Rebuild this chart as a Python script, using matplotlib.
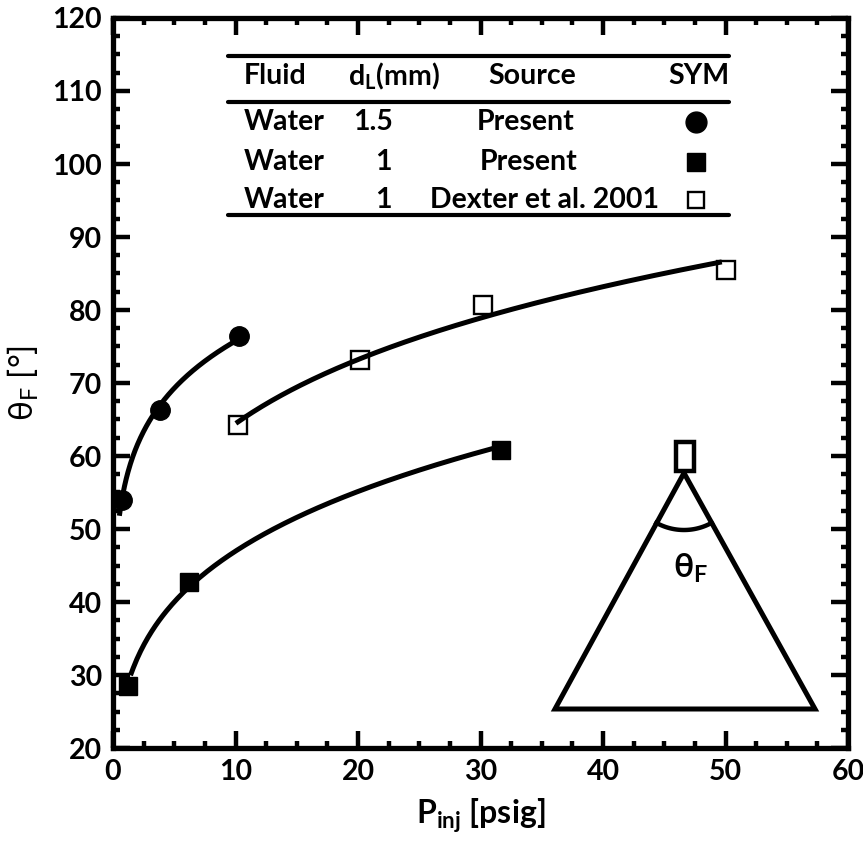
import matplotlib
matplotlib.use("Agg")
import matplotlib.pyplot as plt
import numpy as np
from matplotlib.ticker import MultipleLocator

plt.rcParams['font.family'] = ['Lato', 'DejaVu Sans']
plt.rcParams['mathtext.fontset'] = 'custom'
plt.rcParams['mathtext.rm'] = 'Lato'
plt.rcParams['mathtext.bf'] = 'Lato:bold'
plt.rcParams['mathtext.default'] = 'regular'

# data
p_circ = [0.7, 3.85, 10.25]          # dL 1.5 mm, present
th_circ = [54.0, 66.3, 76.5]
p_fsq = [1.2, 6.2, 31.7]             # dL 1 mm, present
th_fsq = [28.5, 42.8, 60.8]
p_osq = [10.2, 20.2, 30.2, 50.0]     # Dexter et al. 2001
th_osq = [64.3, 73.2, 80.7, 85.5]

tbl_fluid = ["Water", "Water", "Water"]
tbl_dl = ["1.5", "1", "1"]
tbl_src = ["Present", "Present", "Dexter et al. 2001"]


def power_fit(x, y, x0, x1):
    b, a = np.polyfit(np.log(x), np.log(y), 1)
    xx = np.linspace(x0, x1, 200)
    return xx, np.exp(a) * xx ** b


fig = plt.figure(figsize=(8.63, 8.46), dpi=100)
ax = fig.add_axes([113/863, 1-748/846, 735/863, 730/846])

lw = 3.6
xx, yy = power_fit(p_circ, th_circ, 0.55, 10.2)
ax.plot(xx, yy, color='black', lw=lw, zorder=2)
xx, yy = power_fit(p_fsq, th_fsq, 1.5, 31.5)
ax.plot(xx, yy, color='black', lw=lw, zorder=2)
xx, yy = power_fit(p_osq, th_osq, 10.2, 49.5)
ax.plot(xx, yy, color='black', lw=lw, zorder=2)

ax.plot(p_circ, th_circ, 'o', color='black', ms=14, zorder=3, clip_on=False)
ax.plot(p_fsq, th_fsq, 's', color='black', ms=13, zorder=3, clip_on=False)
ax.plot(p_osq, th_osq, 's', mfc='none', mec='black', mew=1.7, ms=12.5, zorder=1)

ax.set_xlim(0, 60)
ax.set_ylim(20, 120)
ax.xaxis.set_major_locator(MultipleLocator(10))
ax.xaxis.set_minor_locator(MultipleLocator(2.5))
ax.yaxis.set_major_locator(MultipleLocator(10))
ax.yaxis.set_minor_locator(MultipleLocator(2.5))
ax.tick_params(which='both', direction='in', top=True, right=True, width=3.2)
ax.tick_params(which='major', length=12, labelsize=20.5, pad=8)
ax.tick_params(which='minor', length=5)
for lab in ax.get_xticklabels() + ax.get_yticklabels():
    lab.set_fontweight('bold')
for s in ax.spines.values():
    s.set_linewidth(3.8)

ax.set_xlabel(r'P$_{\mathbf{inj}}$ [psig]', fontsize=23, fontweight='bold', labelpad=8)
ax.set_ylabel('θ$_\\mathregular{F}$ [°]', fontsize=24, labelpad=8)

# table-like legend
tx = dict(fontsize=20.5, fontweight='bold', va='center')
for yl in [114.8, 108.5, 93.0]:
    ax.plot([9.4, 50.3], [yl, yl], color='black', lw=3, solid_capstyle='round')
ax.text(10.65, 112.0, "Fluid", ha='left', **tx)
ax.text(22.9, 112.0, r'd$_{\mathbf{L}}$(mm)', ha='center', **tx)
ax.text(34.2, 112.0, "Source", ha='center', **tx)
ax.text(50.3, 112.0, "SYM", ha='right', **tx)
row_y = [105.8, 100.3, 95.1]
dl_x = [21.2, 22.1, 22.1]
src_x = [33.7, 33.9, 35.2]
for i in range(3):
    ax.text(10.65, row_y[i], tbl_fluid[i], ha='left', **tx)
    ax.text(dl_x[i], row_y[i], tbl_dl[i], ha='center', **tx)
    ax.text(src_x[i], row_y[i], tbl_src[i], ha='center', **tx)
ax.plot([47.6], [row_y[0]], 'o', color='black', ms=15)
ax.plot([47.6], [row_y[1]], 's', color='black', ms=13)
ax.plot([47.6], [row_y[2]], 's', mfc='none', mec='black', mew=1.7, ms=11)

# nozzle sketch
ins = fig.add_axes([540/863, 1-720/846, 290/863, 290/846])
ins.set_xlim(540, 830)
ins.set_ylim(720, 430)
ins.axis('off')
ins.plot([684, 555, 815, 684], [473, 709, 709, 473], color='black', lw=3.6,
         solid_joinstyle='miter')
ins.add_patch(plt.Rectangle((676, 442), 18, 29, fill=False, ec='black', lw=3.2))
ang = np.radians(np.linspace(61, 119, 60))
ins.plot(684 + 57 * np.cos(ang + np.pi), 473 + 57 * np.sin(ang), color='black', lw=3.2)
ins.text(690, 568, 'θ$_\\mathbf{F}$', fontsize=24, fontweight='bold',
         ha='center', va='center')

fig.savefig('out.png', dpi=100)
